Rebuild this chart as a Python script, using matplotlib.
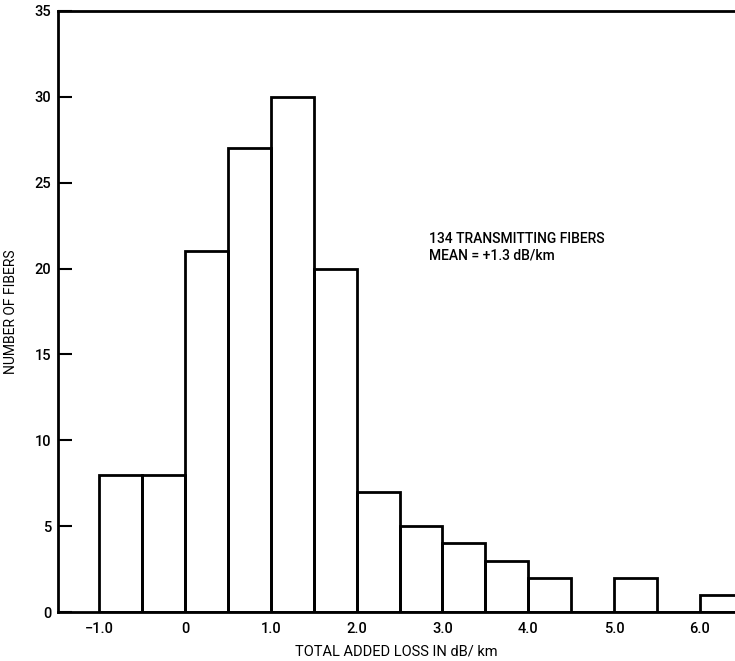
import matplotlib.pyplot as plt
import numpy as np

plt.rcParams['font.family'] = ['Roboto', 'DejaVu Sans']
plt.rcParams['font.weight'] = 'medium'

# histogram bins (left edges, dB/km) and counts
bin_left = [-1.0, -0.5, 0.0, 0.5, 1.0, 1.5, 2.0, 2.5, 3.0, 3.5, 4.0, 4.5, 5.0, 5.5, 6.0]
counts = [8, 8, 21, 27, 30, 20, 7, 5, 4, 3, 2, 0, 2, 0, 1]
bin_width = 0.5

xticks = [-1.0, 0, 1.0, 2.0, 3.0, 4.0, 5.0, 6.0]
xtick_labels = ['\u22121.0', '0', '1.0', '2.0', '3.0', '4.0', '5.0', '6.0']
yticks = [0, 5, 10, 15, 20, 25, 30, 35]

fig = plt.figure(figsize=(7.35, 6.61), dpi=100)
ax = fig.add_axes([0.079, 0.074, 0.921, 0.9094])

ax.bar(bin_left, counts, width=bin_width, align='edge', fill=False,
       edgecolor='black', linewidth=2.0)

ax.set_xlim(-1.48, 6.41)
ax.set_ylim(0, 35)
ax.set_xticks(xticks)
ax.set_xticklabels(xtick_labels)
ax.set_yticks(yticks)
ax.tick_params(axis='x', length=0, pad=7, labelsize=10.5)
ax.tick_params(axis='y', direction='in', length=10, width=1.5, pad=5, labelsize=10.5)

for s in ['left', 'bottom', 'top']:
    ax.spines[s].set_linewidth(2.0)
ax.spines['right'].set_visible(False)

ax.set_xlabel('TOTAL ADDED LOSS IN dB/ km', fontsize=10.5, labelpad=6)
ax.set_ylabel('NUMBER OF FIBERS', fontsize=10, labelpad=12)

ax.text(2.84, 21.7, '134 TRANSMITTING FIBERS', fontsize=10, va='center', ha='left')
ax.text(2.84, 20.75, 'MEAN = +1.3 dB/km', fontsize=10, va='center', ha='left')

plt.savefig('out.png', dpi=100)
